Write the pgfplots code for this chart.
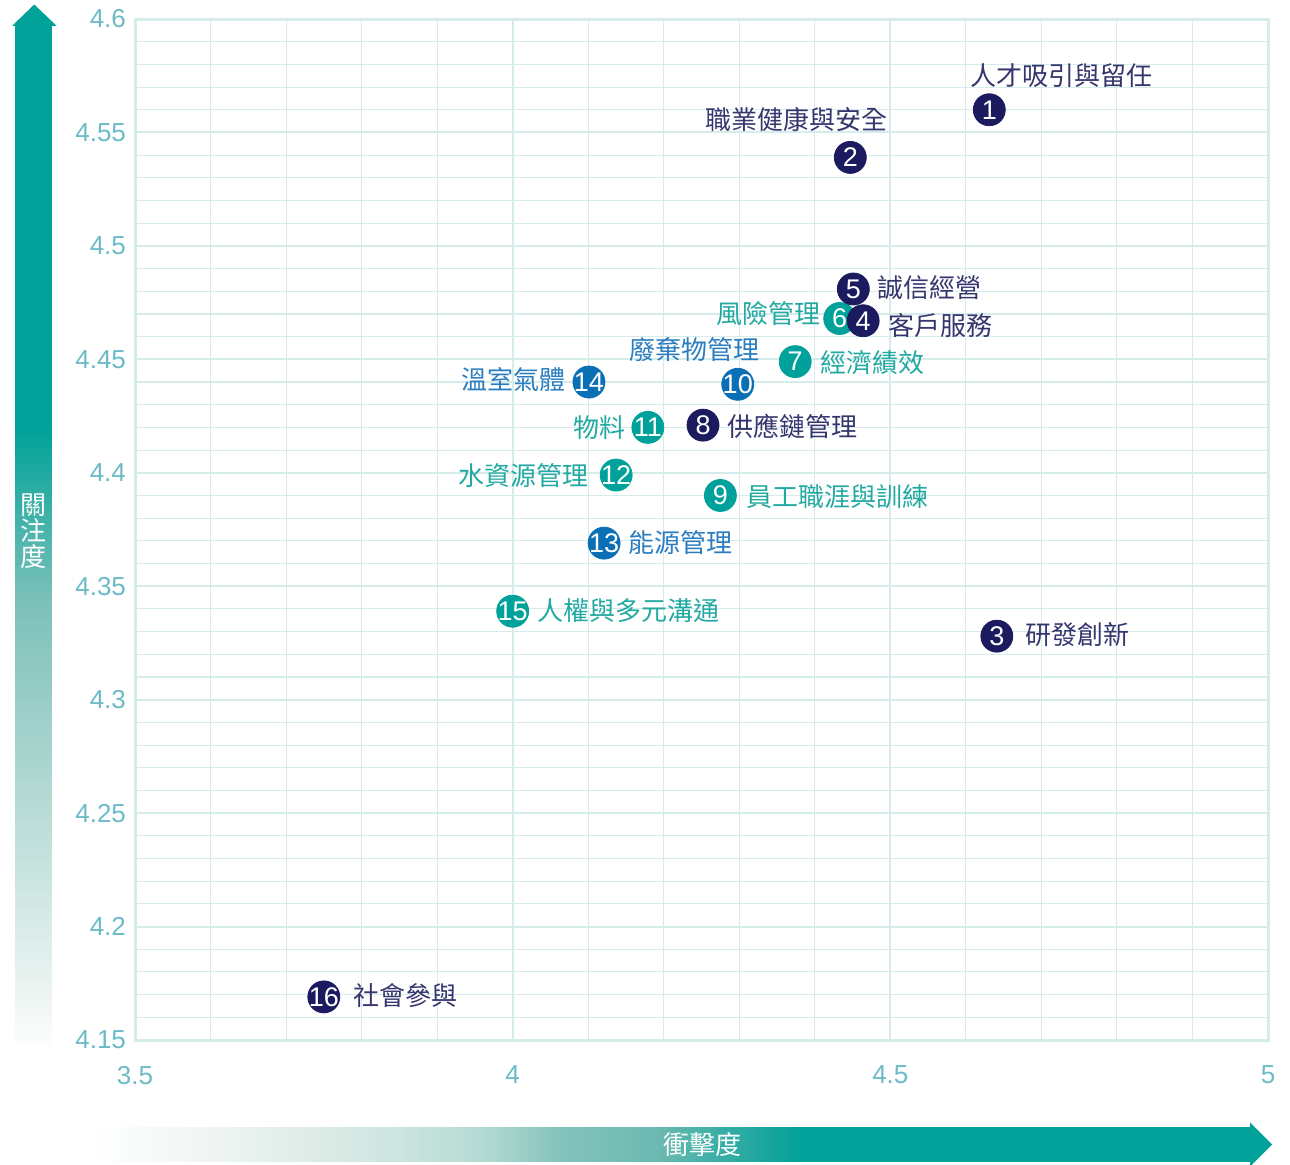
\documentclass[border=0pt]{standalone}
\usepackage{pgfplots}
\pgfplotsset{compat=1.18}
\usepackage{fontspec}
\setmainfont{Liberation Sans}
\newfontfamily\cjk{Noto Sans CJK TC}
\definecolor{arrteal}{HTML}{00A29A}
\definecolor{navyc}{HTML}{1C1B5F}
\definecolor{navyt}{HTML}{36366F}
\definecolor{tealc}{HTML}{00A19A}
\definecolor{tealt}{HTML}{22A9A1}
\definecolor{bluec}{HTML}{0B6FB6}
\definecolor{bluet}{HTML}{2A7DC0}
\definecolor{gridc}{HTML}{D5ECEA}
\definecolor{tickc}{HTML}{6BBBC6}
\definecolor{va}{HTML}{EEF5F3}
\definecolor{vb}{HTML}{B5DAD4}
\definecolor{vc}{HTML}{7CC0B8}
\definecolor{h1}{HTML}{F1F6F5}
\definecolor{h2}{HTML}{E0EDE9}
\definecolor{h3}{HTML}{CDE4DF}
\definecolor{h4}{HTML}{B5DBD4}
\definecolor{h5}{HTML}{85C3BB}
\definecolor{h6}{HTML}{6AB9B1}
\definecolor{h7}{HTML}{3AAEA6}
\definecolor{h8}{HTML}{0FA49C}
% horizontal gradient segment: xa, xb, colour A (left), colour B (right)
\newcommand\hseg[4]{%
  \foreach \i in {0,...,19}{%
    \pgfmathsetmacro\pp{\i*5+2.5}%
    \pgfmathsetmacro\xa{#1+(#2-#1)*\i/20}%
    \pgfmathsetmacro\xb{#1+(#2-#1)*(\i+1)/20+0.6}%
    \fill[#4!\pp!#3] (\xa,2) rectangle (\xb,37);}}
% vertical gradient segment: ya, yb, colour A (bottom), colour B (top)
\newcommand\vseg[4]{%
  \foreach \i in {0,...,19}{%
    \pgfmathsetmacro\pp{\i*5+2.5}%
    \pgfmathsetmacro\ya{#1+(#2-#1)*\i/20}%
    \pgfmathsetmacro\yb{#1+(#2-#1)*(\i+1)/20+0.6}%
    \fill[#4!\pp!#3] (15,\ya) rectangle (52,\yb);}}
\begin{document}
\begin{tikzpicture}[x=0.5pt,y=0.5pt]
\path[use as bounding box] (0,0) rectangle (1290,1164);
% left arrow
\fill[arrteal] (15,733.5) rectangle (52,1138.5);
\fill[arrteal] (12,1138) -- (34.3,1159.5) -- (56.7,1138) -- cycle;
\vseg{564}{734}{vc}{arrteal}
\vseg{364}{564}{vb}{vc}
\vseg{164}{364}{va}{vb}
\vseg{110}{164}{white}{va}
\node[text=white, font=\cjk\fontsize{13}{13}\selectfont, align=center, inner sep=0pt] at (33,633) {關\\注\\度};
% bottom arrow
\hseg{90}{200}{white}{h1}
\hseg{200}{300}{h1}{h2}
\hseg{300}{400}{h2}{h3}
\hseg{400}{480}{h3}{h4}
\hseg{480}{560}{h4}{h5}
\hseg{560}{660}{h5}{h6}
\hseg{660}{720}{h6}{h7}
\hseg{720}{780}{h7}{h8}
\hseg{780}{810}{h8}{arrteal}
\fill[arrteal] (810,2) rectangle (1250.5,37);
\fill[arrteal] (1250,-2.5) -- (1272,19.5) -- (1250,41.5) -- cycle;
\node[text=white, font=\cjk\fontsize{13}{13}\selectfont, inner sep=0pt] at (702,19) {衝擊度};
\begin{axis}[
  at={(67.5pt,62pt)}, anchor=south west,
  scale only axis, width=566.5pt, height=510.5pt,
  xmin=3.5, xmax=5, ymin=4.15, ymax=4.6,
  xtick={3.5,4,4.5,5},
  ytick={4.15,4.2,4.25,4.3,4.35,4.4,4.45,4.5,4.55,4.6},
  minor x tick num=4, minor y tick num=4,
  grid=both,
  major grid style={draw=gridc, line width=1pt},
  minor grid style={draw=gridc, line width=0.55pt},
  axis line style={draw=gridc, line width=1.5pt},
  major tick style={draw=none}, minor tick style={draw=none},
  /pgf/number format/assume math mode=true,
  ticklabel style={font=\fontsize{13}{13}\selectfont, text=tickc},
  xticklabel style={yshift=-9.5pt},
  yticklabel style={xshift=-1pt},
  clip=false,
]
\addplot[only marks, mark=*, mark size=8pt, color=bluec, nodes near coords, point meta=explicit symbolic,
  every node near coord/.style={anchor=center, text=white, font=\fontsize{13.5}{13.5}\selectfont, inner sep=0pt}]
  table[x=x, y=y, meta=n]{
x y n
4.298 4.439 10
4.121 4.369 13
4.101 4.440 14
};
\addplot[only marks, mark=*, mark size=8pt, color=tealc, nodes near coords, point meta=explicit symbolic,
  every node near coord/.style={anchor=center, text=white, font=\fontsize{13.5}{13.5}\selectfont, inner sep=0pt}]
  table[x=x, y=y, meta=n]{
x y n
4.433 4.468 6
4.374 4.449 7
4.275 4.390 9
4.179 4.420 11
4.137 4.399 12
4.000 4.339 15
};
\addplot[only marks, mark=*, mark size=8pt, color=navyc, nodes near coords, point meta=explicit symbolic,
  every node near coord/.style={anchor=center, text=white, font=\fontsize{13.5}{13.5}\selectfont, inner sep=0pt}]
  table[x=x, y=y, meta=n]{
x y n
4.631 4.560 1
4.447 4.539 2
4.641 4.328 3
4.451 4.481 5
4.464 4.467 4
4.252 4.421 8
3.750 4.169 16
};
\tikzset{lab/.style={font=\cjk\fontsize{13}{13}\selectfont, inner sep=0pt}}
\node[lab, text=navyt, anchor=west] at (axis cs:4.6055,4.5749) {人才吸引與留任};
\node[lab, text=navyt, anchor=east] at (axis cs:4.4969,4.5559) {職業健康與安全};
\node[lab, text=navyt, anchor=west] at (axis cs:4.6783,4.3285) {研發創新};
\node[lab, text=navyt, anchor=west] at (axis cs:4.4969,4.4651) {客戶服務};
\node[lab, text=navyt, anchor=west] at (axis cs:4.4823,4.4814) {誠信經營};
\node[lab, text=tealt, anchor=east] at (axis cs:4.4082,4.4700) {風險管理};
\node[lab, text=tealt, anchor=west] at (axis cs:4.4069,4.4488) {經濟績效};
\node[lab, text=navyt, anchor=west] at (axis cs:4.2838,4.4206) {供應鏈管理};
\node[lab, text=tealt, anchor=west] at (axis cs:4.3089,4.3893) {員工職涯與訓練};
\node[lab, text=bluet, anchor=east] at (axis cs:4.3275,4.4541) {廢棄物管理};
\node[lab, text=tealt, anchor=east] at (axis cs:4.1500,4.4197) {物料};
\node[lab, text=tealt, anchor=east] at (axis cs:4.1011,4.3986) {水資源管理};
\node[lab, text=bluet, anchor=west] at (axis cs:4.1527,4.3691) {能源管理};
\node[lab, text=bluet, anchor=east] at (axis cs:4.0706,4.4409) {溫室氣體};
\node[lab, text=tealt, anchor=west] at (axis cs:4.0322,4.3391) {人權與多元溝通};
\node[lab, text=navyt, anchor=west] at (axis cs:3.7886,4.1694) {社會參與};
\end{axis}
\end{tikzpicture}
\end{document}
